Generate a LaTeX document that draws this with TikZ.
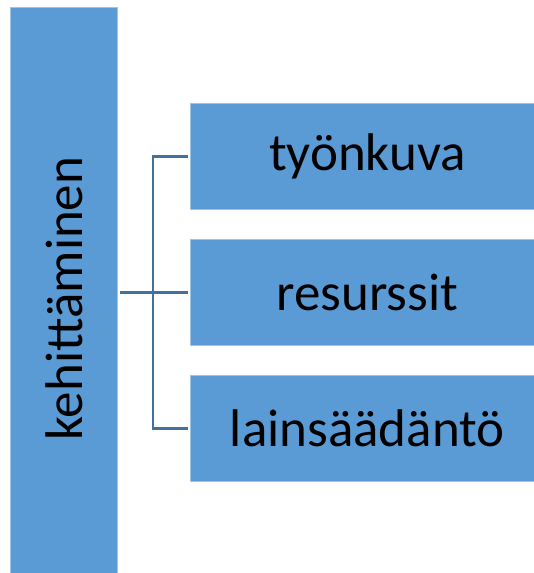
\documentclass[tikz,border=0pt]{standalone}
\usepackage{fontspec}
\setmainfont{Carlito}
\definecolor{boxblue}{HTML}{5B9BD5}
\definecolor{linkblue}{HTML}{41719C}
\begin{document}
\begin{tikzpicture}[x=1pt,y=1pt,
  bluebox/.style={fill=boxblue,draw=boxblue!60!white,line width=0.8pt,inner sep=0pt,font=\fontsize{53}{60}\selectfont},
  link/.style={draw=linkblue,line width=2.2pt}]
\useasboundingbox (0,0) rectangle (534,573);
\node[bluebox,minimum width=107pt,minimum height=566pt,anchor=south west] (kehi) at (10,-1) {};
\node[font=\fontsize{53}{60}\selectfont,rotate=90] (kehitext) at ([yshift=-8pt]kehi.center) {kehittäminen};
\node[bluebox,minimum width=344pt,minimum height=106pt,anchor=south west] (b1) at (190,363) {\hspace*{10pt}työnkuva};
\node[bluebox,minimum width=344pt,minimum height=106pt,anchor=south west] (b2) at (190,227) {\hspace*{10pt}resurssit};
\node[bluebox,minimum width=344pt,minimum height=106pt,anchor=south west] (b3) at (190,91) {\hspace*{10pt}lainsäädäntö};
\draw[link] ([xshift=2pt]kehi.east |- b2.west) -- ([xshift=-2pt]b2.west);
\draw[link] ([xshift=-2pt]b1.west) -- ([xshift=-37pt]b1.west) |- ([xshift=-2pt]b3.west);
\end{tikzpicture}
\end{document}
